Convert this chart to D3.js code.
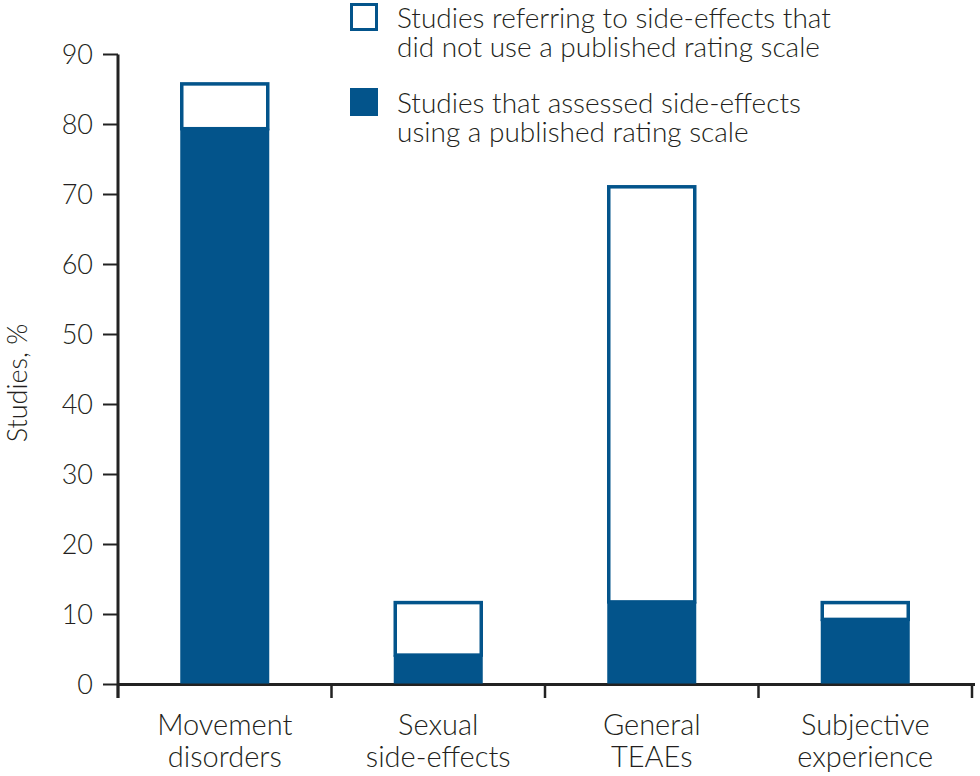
<!DOCTYPE html>
<html><head><meta charset="utf-8">
<script src="https://cdn.jsdelivr.net/npm/d3@7"></script>
<style>body{margin:0;background:#fff}svg{display:block}text{font-family:Lato,"Open Sans",sans-serif;font-weight:300;fill:#231f20}</style>
</head><body><svg id="c" width="980" height="776"></svg>
<script>
const categories = [["Movement","disorders"],["Sexual","side-effects"],["General","TEAEs"],["Subjective","experience"]];
const published = [79.4, 4.2, 11.8, 9.3];
const total = [85.8, 11.7, 71.1, 11.7];
const yTicks = [0,10,20,30,40,50,60,70,80,90];
const legendLabels = [["Studies referring to side-effects that","did not use a published rating scale"],["Studies that assessed side-effects","using a published rating scale"]];
const blue = "#03548b";

const svg = d3.select("#c");
const x = d3.scaleBand().domain(d3.range(categories.length)).range([118, 972]).paddingInner(0).paddingOuter(0);
const y = d3.scaleLinear().domain([0, 90]).range([684.5, 54.5]);
const bw = 89;

// y axis
svg.append("line").attr("x1",118).attr("x2",118).attr("y1",y(90)).attr("y2",698).attr("stroke","#222").attr("stroke-width",3);
yTicks.forEach(t=>{
  svg.append("line").attr("x1",103).attr("x2",118).attr("y1",y(t)).attr("y2",y(t)).attr("stroke","#222").attr("stroke-width",2);
  svg.append("text").attr("x",93).attr("y",y(t)).attr("dy","0.36em").attr("text-anchor","end").attr("font-size",27).text(t);
});
// x axis
svg.append("line").attr("x1",117).attr("x2",975).attr("y1",y(0)).attr("y2",y(0)).attr("stroke","#222").attr("stroke-width",3);
d3.range(categories.length+1).forEach(i=>{
  const xx = i<categories.length ? x(i) : x(categories.length-1)+x.bandwidth();
  svg.append("line").attr("x1",xx).attr("x2",xx).attr("y1",y(0)).attr("y2",698).attr("stroke","#222").attr("stroke-width",2.5);
});
categories.forEach((c,i)=>{
  const cx = x(i)+x.bandwidth()/2;
  svg.append("text").attr("x",cx).attr("y",735).attr("text-anchor","middle").attr("font-size",29).text(c[0]);
  svg.append("text").attr("x",cx).attr("y",767).attr("text-anchor","middle").attr("font-size",29).text(c[1]);
});
// bars
categories.forEach((c,i)=>{
  const cx = x(i)+x.bandwidth()/2;
  svg.append("rect").attr("x",cx-bw/2+1.5).attr("width",bw-3).attr("y",y(total[i])).attr("height",y(published[i])-y(total[i]))
    .attr("fill","#fff").attr("stroke",blue).attr("stroke-width",3.5);
  svg.append("rect").attr("x",cx-bw/2).attr("width",bw).attr("y",y(published[i])).attr("height",y(0)-y(published[i])-1).attr("fill",blue);
});
// y label
svg.append("text").attr("transform","translate(27,383) rotate(-90)").attr("text-anchor","middle").attr("font-size",27).text("Studies, %");
// legend
legendLabels.forEach((l,i)=>{
  const y0 = i*85;
  if(i===0) svg.append("rect").attr("x",351.5).attr("y",4.5+y0).attr("width",25).attr("height",25).attr("fill","#fff").attr("stroke",blue).attr("stroke-width",3);
  else svg.append("rect").attr("x",350).attr("y",3+y0).attr("width",28).attr("height",28).attr("fill",blue);
  svg.append("text").attr("font-size",28).attr("x",397).attr("y",28+y0).text(l[0]);
  svg.append("text").attr("font-size",28).attr("x",397).attr("y",57+y0).text(l[1]);
});
</script></body></html>
